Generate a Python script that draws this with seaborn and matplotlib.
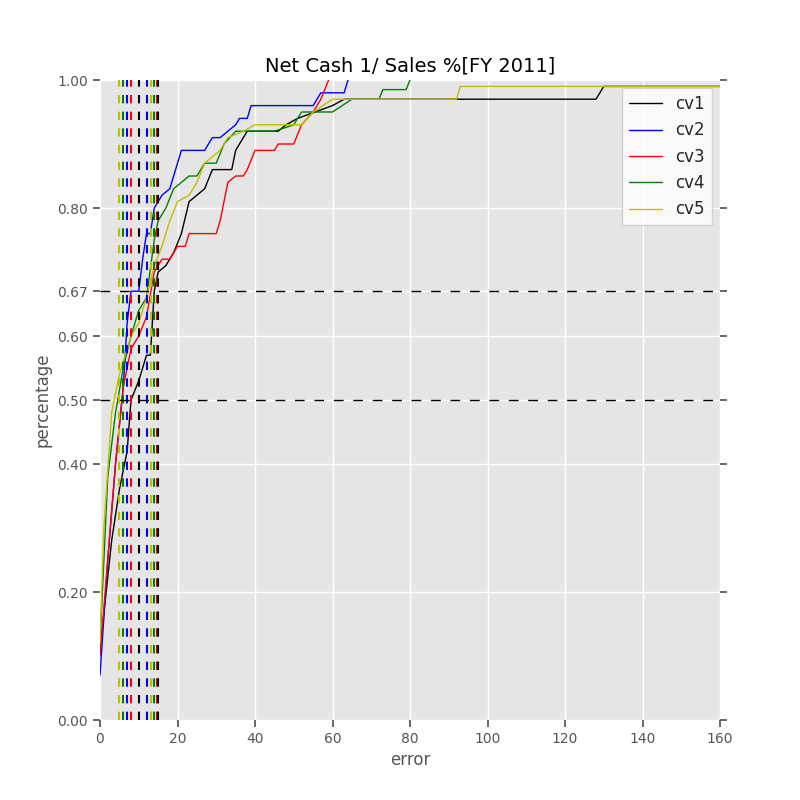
import matplotlib
matplotlib.use("Agg")
import matplotlib.pyplot as plt
import seaborn as sns
import pandas as pd

# error / cumulative percentage breakpoints
cv1_x = [0, 3, 5, 7, 8, 10, 12, 13, 14, 15, 17, 19, 21, 23, 25, 27, 29, 34, 35, 38, 46, 48, 51, 60, 63, 128, 130, 160]
cv1_y = [0.11, 0.28, 0.36, 0.42, 0.5, 0.53, 0.57, 0.57, 0.67, 0.7, 0.71, 0.73, 0.76, 0.81, 0.82, 0.83, 0.86, 0.86, 0.89, 0.92, 0.92, 0.93, 0.94, 0.96, 0.97, 0.97, 0.99, 0.99]
cv2_x = [0, 2, 4, 6, 7, 8, 10, 11, 12, 13, 14, 16, 18, 20, 21, 27, 29, 31, 33, 35, 36, 38, 39, 55, 57, 63, 64]
cv2_y = [0.07, 0.25, 0.4, 0.52, 0.62, 0.67, 0.67, 0.72, 0.76, 0.76, 0.8, 0.82, 0.83, 0.87, 0.89, 0.89, 0.91, 0.91, 0.92, 0.93, 0.94, 0.94, 0.96, 0.96, 0.98, 0.98, 1.0]
cv3_x = [0, 2, 4, 6, 8, 10, 12, 14, 16, 18, 20, 22, 23, 30, 31, 33, 35, 37, 38, 40, 45, 46, 50, 52, 55, 57, 59]
cv3_y = [0.1, 0.25, 0.4, 0.52, 0.58, 0.6, 0.63, 0.7, 0.72, 0.72, 0.74, 0.74, 0.76, 0.76, 0.78, 0.84, 0.85, 0.85, 0.86, 0.89, 0.89, 0.9, 0.9, 0.93, 0.95, 0.97, 1.0]
cv4_x = [0, 2, 4, 6, 8, 10, 12, 14, 15, 17, 19, 21, 23, 25, 27, 30, 32, 35, 45, 50, 52, 60, 65, 72, 73, 79, 80]
cv4_y = [0.12, 0.38, 0.48, 0.55, 0.6, 0.64, 0.66, 0.75, 0.78, 0.8, 0.83, 0.84, 0.85, 0.85, 0.87, 0.87, 0.9, 0.92, 0.92, 0.93, 0.95, 0.95, 0.97, 0.97, 0.985, 0.985, 1.0]
cv5_x = [0, 1, 3, 5, 8, 10, 12, 14, 16, 18, 20, 23, 25, 27, 29, 31, 33, 37, 40, 52, 55, 60, 92, 93, 160]
cv5_y = [0.12, 0.3, 0.48, 0.54, 0.6, 0.62, 0.66, 0.71, 0.74, 0.78, 0.81, 0.82, 0.84, 0.87, 0.88, 0.89, 0.91, 0.92, 0.93, 0.93, 0.95, 0.97, 0.97, 0.99, 0.99]

names = ["cv1", "cv2", "cv3", "cv4", "cv5"]
colors = ["black", "blue", "red", "green", "#bfbf00"]
# error at 50% and 67% for each cv
err50 = [10.1, 7.0, 8.0, 5.9, 4.9]
err67 = [15.0, 12.2, 14.8, 14.0, 13.2]
yticks = [0.0, 0.2, 0.4, 0.5, 0.6, 0.67, 0.8, 1.0]

xs = [cv1_x, cv2_x, cv3_x, cv4_x, cv5_x]
ys = [cv1_y, cv2_y, cv3_y, cv4_y, cv5_y]
df = pd.concat([pd.DataFrame({"error": x, "percentage": y, "cv": n}) for x, y, n in zip(xs, ys, names)])

sns.set_theme(style="darkgrid", rc={"axes.facecolor": "#E5E5E5", "grid.color": "white",
                                     "xtick.bottom": True, "ytick.left": True, "ytick.right": True})
plt.rcParams['font.family'] = ['DejaVu Sans']

fig, ax = plt.subplots(figsize=(8, 8), dpi=100)
fig.subplots_adjust(left=0.125, right=0.9, bottom=0.1, top=0.9)

sns.lineplot(data=df, x="error", y="percentage", hue="cv", palette=colors, sort=False,
             estimator=None, linewidth=1, ax=ax)

# reverse order so cv1 (black) ends up on top
for c, a, b in list(zip(colors, err50, err67))[::-1]:
    ax.axvline(a, color=c, linestyle=(0, (4, 4)), linewidth=1.5)
    ax.axvline(b, color=c, linestyle=(0, (4, 4)), linewidth=1.5)
ax.axhline(0.5, color="black", linestyle=(0, (7, 7)), linewidth=1)
ax.axhline(0.67, color="black", linestyle=(0, (7, 7)), linewidth=1)

ax.set_xlim(0, 160)
ax.set_ylim(0, 1)
ax.set_yticks(yticks)
ax.set_yticklabels([f"{t:.2f}" for t in yticks])
ax.tick_params(colors="#555555", labelsize=10, direction="out", length=5)
ax.set_xlabel("error", fontsize=12, color="#555555")
ax.set_ylabel("percentage", fontsize=12, color="#555555")
ax.set_title("Net Cash 1/ Sales %[FY 2011]", fontsize=14, color="black")
for s in ax.spines.values():
    s.set_visible(False)

leg = ax.legend(loc="upper right", fontsize=12, frameon=True, fancybox=False)
leg.get_frame().set_facecolor("white")
leg.get_frame().set_edgecolor("#cccccc")

fig.savefig("out.png", dpi=100, facecolor="white")
